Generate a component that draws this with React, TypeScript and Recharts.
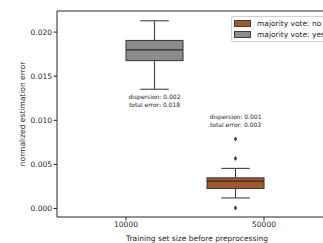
import React from "react";
import { ComposedChart, Bar, XAxis, YAxis, Legend, ReferenceLine } from "recharts";

/**
 * Boxplot of normalized estimation error by training set size, split by
 * the majority-vote flag. Recharts has no box series, so each box is a
 * range Bar (whisker low → whisker high) with a custom shape that maps
 * the quartiles through the bar's own pixel span.
 */

const FONT = "DejaVu Sans, sans-serif";
const INK = "#262626";
const LINE = "#404040";

const SIZES = ["10000", "50000"];
const SERIES = ["majority vote: no", "majority vote: yes"];
const COLORS = ["#a3582c", "#8c8c8c"];

// [whisker low, q1, median, q3, whisker high] — null where there are no runs
const NO_BOX = [null, [0.0012, 0.00227, 0.0031, 0.00348, 0.00455]];
const YES_BOX = [[0.01352, 0.01677, 0.01799, 0.01905, 0.02128], null];
const NO_FLIERS = [[], [0.00788, 0.00568, 0.00007]];
const YES_FLIERS = [[], []];
const NO_NOTES = [null, ["dispersion: 0.001", "total error: 0.003"]];
const YES_NOTES = [["dispersion: 0.002", "total error: 0.018"], null];
// error value the annotation is pinned to
const NO_NOTE_AT = [null, 0.0104];
const YES_NOTE_AT = [0.01265, null];

const Y_TICKS = [0, 0.005, 0.01, 0.015, 0.02];
const Y_DOMAIN = [-0.00096, 0.02239];

type Stats = { box: number[]; fliers: number[]; notes: string[] | null; noteAt: number | null };

const data = SIZES.map((size, i) => ({
  size,
  no: NO_BOX[i] ? { box: NO_BOX[i], fliers: NO_FLIERS[i], notes: NO_NOTES[i], noteAt: NO_NOTE_AT[i] } : null,
  yes: YES_BOX[i] ? { box: YES_BOX[i], fliers: YES_FLIERS[i], notes: YES_NOTES[i], noteAt: YES_NOTE_AT[i] } : null,
}));

const range = (s: Stats | null) => (s ? [s.box[0], s.box[4]] : null);

function BoxShape(props: any) {
  const { x, y, width, height, stats, color } = props as {
    x: number; y: number; width: number; height: number; stats: Stats | null; color: string;
  };
  if (!stats || !height) return null;
  const [lo, q1, med, q3, hi] = stats.box;
  // linear map from value to pixel, anchored on the bar's [lo, hi] span
  const py = (v: number) => y + (height * (hi - v)) / (hi - lo);
  const cx = x + width / 2;
  const cap = width / 4;
  return (
    <g>
      <line x1={cx} x2={cx} y1={py(hi)} y2={py(q3)} stroke={LINE} strokeWidth={1.1} />
      <line x1={cx} x2={cx} y1={py(q1)} y2={py(lo)} stroke={LINE} strokeWidth={1.1} />
      <line x1={cx - cap} x2={cx + cap} y1={py(hi)} y2={py(hi)} stroke={LINE} strokeWidth={1.1} />
      <line x1={cx - cap} x2={cx + cap} y1={py(lo)} y2={py(lo)} stroke={LINE} strokeWidth={1.1} />
      <rect x={x} y={py(q3)} width={width} height={py(q1) - py(q3)} fill={color} stroke={LINE} strokeWidth={1.1} />
      <line x1={x} x2={x + width} y1={py(med)} y2={py(med)} stroke="#2a2a2a" strokeWidth={1.3} />
      {stats.fliers.map((v, i) => {
        const fy = py(v);
        return (
          <path
            key={i}
            d={`M${cx},${fy - 2.6} L${cx + 1.7},${fy} L${cx},${fy + 2.6} L${cx - 1.7},${fy} Z`}
            fill={LINE}
          />
        );
      })}
      {stats.notes &&
        stats.noteAt != null &&
        stats.notes.map((t, i) => (
          <text
            key={t}
            x={cx}
            y={py(stats.noteAt as number) + i * 7.4}
            textAnchor="middle"
            dominantBaseline="central"
            fontSize={6}
            fontFamily={FONT}
            fill={INK}
            style={{ fill: INK }}
          >
            {t}
          </text>
        ))}
    </g>
  );
}

function LegendBox() {
  return (
    <div
      style={{
        border: "1px solid #d0d0d0",
        borderRadius: 2,
        background: "rgba(255,255,255,0.85)",
        padding: "0.5px 6px 0.5px 2px",
        fontFamily: FONT,
        fontSize: 7.5,
        color: INK,
        whiteSpace: "nowrap",
      }}
    >
      {SERIES.map((s, i) => (
        <div key={s} style={{ display: "flex", alignItems: "center", height: 11.5 }}>
          <span
            style={{
              display: "inline-block",
              width: 15,
              height: 5,
              background: COLORS[i],
              border: `1px solid ${LINE}`,
              marginRight: 6,
            }}
          />
          {s}
        </div>
      ))}
    </div>
  );
}

export default function App() {
  const tick = { fontSize: 7.5, fill: INK, fontFamily: FONT };
  return (
    <div style={{ position: "fixed", left: 0, top: 0, width: 323, height: 243, overflow: "hidden", background: "#fff" }}>
      <ComposedChart
        width={345}
        height={243}
        data={data}
        margin={{ top: 11, right: 12, left: 0, bottom: 0 }}
        barSize={57}
        barGap={0}
      >
        <XAxis
          dataKey="size"
          height={26}
          tick={tick}
          tickSize={3.5}
          tickMargin={1}
          tickLine={{ stroke: INK }}
          axisLine={{ stroke: INK }}
          label={{
            value: "Training set size before preprocessing",
            position: "insideBottom",
            offset: 2,
            dx: 2,
            style: { fontSize: 7.5, fill: INK, fontFamily: FONT },
          }}
        />
        <YAxis
          width={57}
          type="number"
          domain={Y_DOMAIN}
          ticks={Y_TICKS}
          allowDataOverflow
          tickFormatter={(v: number) => v.toFixed(3)}
          tick={tick}
          tickSize={3.5}
          tickMargin={1.5}
          tickLine={{ stroke: INK }}
          axisLine={{ stroke: INK }}
          label={{
            content: () => (
              <text
                x={22.7}
                y={114}
                transform="rotate(-90 22.7 114)"
                textAnchor="middle"
                dominantBaseline="central"
                fontSize={7.5}
                fontFamily={FONT}
                fill={INK}
              >
                normalized estimation error
              </text>
            ),
          }}
        />
        {/* top spine of the frame */}
        <ReferenceLine y={Y_DOMAIN[1]} stroke={INK} strokeWidth={1} ifOverflow="visible" />
        <Legend
          layout="horizontal"
          verticalAlign="middle"
          align="center"
          wrapperStyle={{ left: 231, top: 16, width: "auto" }}
          content={() => <LegendBox />}
        />
        <Bar
          name={SERIES[0]}
          dataKey={(d: any) => range(d.no)}
          fill={COLORS[0]}
          isAnimationActive={false}
          shape={(p: any) => <BoxShape {...p} stats={p.payload?.no ?? null} color={COLORS[0]} />}
        />
        <Bar
          name={SERIES[1]}
          dataKey={(d: any) => range(d.yes)}
          fill={COLORS[1]}
          isAnimationActive={false}
          shape={(p: any) => <BoxShape {...p} stats={p.payload?.yes ?? null} color={COLORS[1]} />}
        />
      </ComposedChart>
    </div>
  );
}
